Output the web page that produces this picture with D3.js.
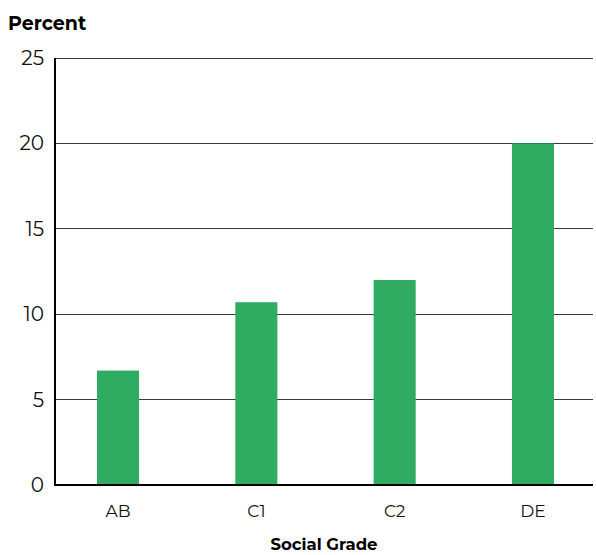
<!DOCTYPE html>
<html><head><meta charset="utf-8">
<script src="https://cdn.jsdelivr.net/npm/d3@7"></script>
<style>body{margin:0;background:#fff}svg{display:block}</style>
</head><body>
<svg id="c" width="596" height="555"></svg>
<script>
const categories = ["AB", "C1", "C2", "DE"];
const values = [6.7, 10.7, 12.0, 20.0];
const yTicks = [0, 5, 10, 15, 20, 25];

(function () {
const svg = d3.select("#c");
const font = "Montserrat, 'Open Sans', Lato, sans-serif";
const mLeft = 55, mRight = 593, mTop = 58, mBottom = 485;

const x = d3.scaleBand().domain(categories).range([mLeft, 596]).paddingInner(0.696).paddingOuter(0.3037);
const y = d3.scaleLinear().domain([0, 25]).range([mBottom, mTop]);

// gridlines
svg.append("g").selectAll("line").data(yTicks.filter(d => d > 0)).join("line")
  .attr("x1", mLeft).attr("x2", mRight)
  .attr("y1", d => y(d)).attr("y2", d => y(d))
  .attr("stroke", "#3a3a3a").attr("stroke-width", 1).attr("shape-rendering", "crispEdges");

// bars
svg.append("g").selectAll("rect").data(values).join("rect")
  .attr("x", (d, i) => x(categories[i]))
  .attr("width", x.bandwidth())
  .attr("y", d => y(d))
  .attr("height", d => y(0) - y(d))
  .attr("fill", "#2fab62");

// y axis
const yAxis = d3.axisLeft(y).tickValues(yTicks).tickSize(0).tickPadding(11);
const gy = svg.append("g").attr("transform", `translate(${mLeft},0)`).call(yAxis);
gy.select(".domain").remove();
gy.selectAll("text").attr("font-family", font).attr("font-size", 20).attr("fill", "#111");
svg.append("line").attr("x1", mLeft).attr("x2", mLeft).attr("y1", mTop).attr("y2", mBottom + 1)
  .attr("stroke", "#000").attr("stroke-width", 2);

// x axis
const xAxis = d3.axisBottom(x).tickSize(0).tickPadding(20);
const gx = svg.append("g").attr("transform", `translate(0,${mBottom})`).call(xAxis);
gx.select(".domain").remove();
gx.selectAll("text").attr("font-family", font).attr("font-size", 17).attr("fill", "#111");
svg.append("line").attr("x1", mLeft - 1).attr("x2", mRight).attr("y1", mBottom).attr("y2", mBottom)
  .attr("stroke", "#000").attr("stroke-width", 2);

// titles
svg.append("text").attr("x", 8).attr("y", 30).text("Percent")
  .attr("font-family", font).attr("font-size", 19).attr("font-weight", "bold").attr("fill", "#000");
svg.append("text").attr("x", (mLeft + mRight) / 2).attr("y", 550).attr("text-anchor", "middle").text("Social Grade")
  .attr("font-family", font).attr("font-size", 16.5).attr("font-weight", "bold").attr("fill", "#000");
})();
</script>
</body></html>
